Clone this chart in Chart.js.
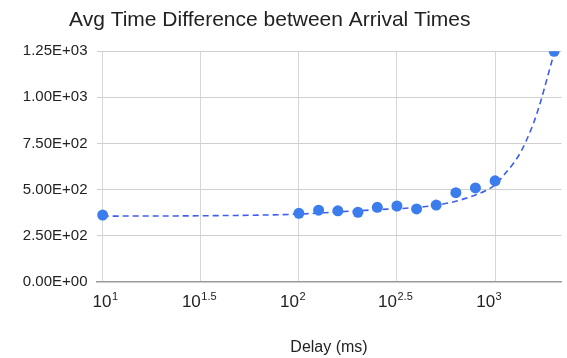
<!DOCTYPE html>
<html>
<head>
<meta charset="utf-8">
<script src="https://cdn.jsdelivr.net/npm/chart.js@4.4.1/dist/chart.umd.min.js"></script>
<style>
    html, body { margin: 0; padding: 0; background: #fff; }
    #wrap { width: 567px; height: 358px; }
</style>
</head>
<body>
<div id="wrap"><canvas id="chart"></canvas></div>
<script>
// measured points: delay (ms) vs avg time difference
const delays = [10, 100, 126, 158, 200, 251, 316, 398, 501, 631, 794, 1000, 2000];
const avgDiffs = [361, 370, 387, 384, 376, 403, 410, 394, 415, 482, 508, 547, 1250];

// trendline
const trendX = [10, 31.6, 100, 158, 251, 398, 501, 631, 794, 1000, 1137, 1253, 1355, 1436, 1511, 1583, 1710, 1849, 2000, 2080];
const trendY = [355, 357, 366, 378, 390, 402, 414, 436, 470, 525, 592, 648, 705, 760, 815, 870, 980, 1110, 1240, 1300];

const xTickExponents = ['1', '1.5', '2', '2.5', '3'];
const yTicks = [0, 250, 500, 750, 1000, 1250];

const chartTitle = 'Avg Time Difference between Arrival Times';
const xAxisTitle = 'Delay (ms)';

const FONT = "'Liberation Sans', Arial, sans-serif";

function sci(v) {
    if (v === 0) return '0.00E+00';
    const e = Math.floor(Math.log10(v));
    const m = (v / Math.pow(10, e)).toFixed(2);
    return m + 'E+' + String(e).padStart(2, '0');
}

// title, superscript x labels and axis title
const textPlugin = {
    id: 'texts',
    afterDraw(chart) {
        const ctx = chart.ctx;
        const xs = chart.scales.x;
        const area = chart.chartArea;
        ctx.save();
        ctx.fillStyle = '#222';
        ctx.textBaseline = 'alphabetic';
        ctx.textAlign = 'left';

        ctx.font = '21px ' + FONT;
        ctx.fillText(chartTitle, 69, 25.5);

        xTickExponents.forEach(exp => {
            const px = xs.getPixelForValue(Math.pow(10, parseFloat(exp)));
            ctx.font = '17px ' + FONT;
            const w1 = ctx.measureText('10').width;
            // "10" ends at the gridline, but don't run past the axis start
            const left = Math.max(px - w1, area.left - 4);
            ctx.fillText('10', left, 306.5);
            ctx.font = '11px ' + FONT;
            ctx.fillText(exp, left + w1 + 0.5, 300);
        });

        ctx.font = '16px ' + FONT;
        ctx.textAlign = 'center';
        ctx.fillText(xAxisTitle, (area.left + area.right) / 2, 352);
        ctx.restore();
    }
};

new Chart(document.getElementById('chart'), {
    type: 'scatter',
    data: {
        datasets: [
            {
                label: 'Trendline',
                data: trendX.map((x, i) => ({ x: x, y: trendY[i] })),
                showLine: true,
                borderColor: '#3f5ef0',
                borderWidth: 1.6,
                borderDash: [6, 4],
                pointRadius: 0,
                cubicInterpolationMode: 'monotone',
                clip: 0,
                order: 2
            },
            {
                label: 'Avg Time Difference',
                data: delays.map((x, i) => ({ x: x, y: avgDiffs[i] })),
                backgroundColor: '#3b7ded',
                borderColor: '#3b7ded',
                pointRadius: 5.5,
                pointBorderWidth: 0,
                clip: 0,
                order: 1
            }
        ]
    },
    plugins: [textPlugin],
    options: {
        responsive: true,
        maintainAspectRatio: false,
        animation: false,
        layout: { padding: { top: 51.3, right: 3, left: 0, bottom: 0 } },
        plugins: {
            legend: { display: false },
            title: { display: false },
            tooltip: { enabled: false }
        },
        scales: {
            x: {
                type: 'logarithmic',
                min: 9.3,
                max: 2180,
                afterBuildTicks: scale => {
                    scale.ticks = xTickExponents.map(e => ({ value: Math.pow(10, parseFloat(e)) }));
                },
                afterFit: scale => { scale.height = 76.5; },
                ticks: { display: false },
                grid: { color: '#d6d6d6', lineWidth: 1, drawTicks: false },
                border: { display: true, color: '#999', width: 1.5 }
            },
            y: {
                min: 0,
                max: 1250,
                afterBuildTicks: scale => {
                    scale.ticks = yTicks.map(v => ({ value: v }));
                },
                afterFit: scale => { scale.width = 96.5; },
                ticks: {
                    padding: 9,
                    color: '#222',
                    font: { family: FONT, size: 15 },
                    callback: v => sci(v)
                },
                grid: { color: '#cfcfcf', lineWidth: 1, drawTicks: false },
                border: { display: false }
            }
        }
    }
});
</script>
</body>
</html>
